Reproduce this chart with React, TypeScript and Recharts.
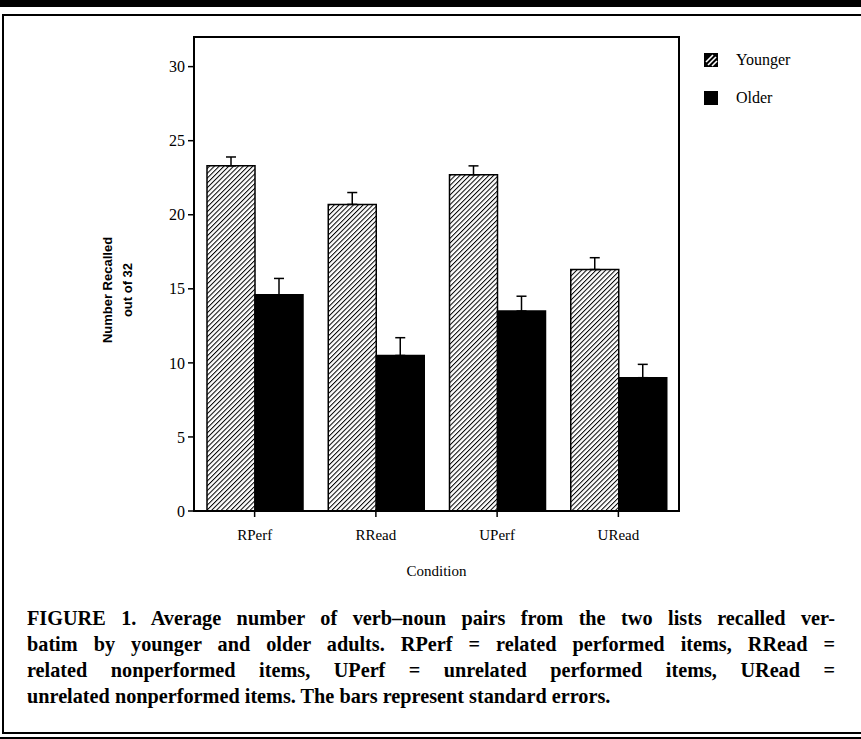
import React from 'react'
import { BarChart, Bar, XAxis, YAxis, ErrorBar, ReferenceArea } from 'recharts'

const conditions = ['RPerf', 'RRead', 'UPerf', 'URead']
const younger = [23.3, 20.7, 22.7, 16.3]
const older = [14.6, 10.5, 13.5, 9.0]
const youngerSE = [0.6, 0.8, 0.6, 0.8]
const olderSE = [1.1, 1.2, 1.0, 0.9]
const yTicks = [0, 5, 10, 15, 20, 25, 30]

const captionLines = [
  'FIGURE 1. Average number of verb\u2013noun pairs from the two lists recalled ver-',
  'batim by younger and older adults. RPerf = related performed items, RRead =',
  'related nonperformed items, UPerf = unrelated performed items, URead =',
  'unrelated nonperformed items. The bars represent standard errors.',
]

// bars only show the upper whisker (the "T")
const data = conditions.map((c, i) => ({
  cond: c,
  younger: younger[i],
  older: older[i],
  youngerErr: [0, youngerSE[i]],
  olderErr: [0, olderSE[i]],
}))

const serif = "'Liberation Serif', 'Times New Roman', serif"
const narrow = "'Liberation Sans Narrow', 'Liberation Sans', Arial, sans-serif"

const YLabel = () => (
  <g fontFamily={narrow} fontWeight="bold" fontSize={13} fill="#000">
    <text x={107} y={290} transform="rotate(-90 107 290)" textAnchor="middle" dominantBaseline="central">
      Number Recalled
    </text>
    <text x={127} y={290} transform="rotate(-90 127 290)" textAnchor="middle" dominantBaseline="central">
      out of 32
    </text>
  </g>
)

function LegendIcon({ hatched }: { hatched: boolean }) {
  return (
    <svg width={14} height={14} style={{ display: 'block' }}>
      <rect x={0} y={0} width={14} height={14} fill="#000" />
      {hatched && (
        <g stroke="#fff" strokeWidth={1.6}>
          <line x1={2} y1={9} x2={9} y2={2} />
          <line x1={4} y1={12} x2={12} y2={4} />
          <line x1={8} y1={13} x2={13} y2={8} />
        </g>
      )}
    </svg>
  )
}

export default function App() {
  const capScale = 0.92
  return (
    <div
      style={{
        position: 'absolute',
        left: 0,
        top: 0,
        width: 861,
        height: 739,
        background: '#fff',
        overflow: 'hidden',
      }}
    >
      {/* page frame */}
      <div style={{ position: 'absolute', left: 0, top: 0, width: 861, height: 7, background: '#000' }} />
      <div style={{ position: 'absolute', left: 2, top: 14, width: 859, height: 2, background: '#000' }} />
      <div style={{ position: 'absolute', left: 2, top: 14, width: 2, height: 720, background: '#000' }} />
      <div style={{ position: 'absolute', left: 2, top: 732, width: 859, height: 2, background: '#000' }} />
      <div style={{ position: 'absolute', left: 0, top: 737, width: 861, height: 2, background: '#000' }} />

      <div style={{ position: 'absolute', left: 0, top: 0 }}>
        <BarChart
          width={861}
          height={600}
          data={data}
          margin={{ top: 37, right: 182, bottom: 0, left: 0 }}
          barCategoryGap={13}
          barGap={0}
        >
          <defs>
            <pattern id="hatch" patternUnits="userSpaceOnUse" width={3.4} height={3.4} patternTransform="rotate(45)">
              <rect width={3.4} height={3.4} fill="#fff" />
              <line x1={0.5} y1={0} x2={0.5} y2={3.4} stroke="#000" strokeWidth={1} />
            </pattern>
          </defs>
          <XAxis
            dataKey="cond"
            height={89}
            axisLine={{ stroke: '#000', strokeWidth: 2 }}
            tickLine={{ stroke: '#000', strokeWidth: 1.5 }}
            tickSize={6}
            tickMargin={12}
            tick={{ fill: '#000', fontSize: 15, fontFamily: serif }}
            label={{ value: 'Condition', position: 'insideBottom', offset: 24, fill: '#000', fontSize: 15, fontFamily: serif }}
          />
          <YAxis
            width={194}
            domain={[0, 32]}
            ticks={yTicks}
            interval={0}
            allowDataOverflow
            axisLine={{ stroke: '#000', strokeWidth: 2 }}
            tickLine={{ stroke: '#000', strokeWidth: 1.5 }}
            tickSize={6}
            tickMargin={3}
            tick={{ fill: '#000', fontSize: 16, fontFamily: serif }}
            label={<YLabel />}
          />
          {/* plot frame (top and right edges) */}
          <ReferenceArea y1={0} y2={32} fill="none" stroke="#000" strokeWidth={2} ifOverflow="visible" />
          <Bar dataKey="younger" fill="url(#hatch)" stroke="#000" strokeWidth={1.5} isAnimationActive={false}>
            <ErrorBar dataKey="youngerErr" width={5} stroke="#000" strokeWidth={1.5} direction="y" />
          </Bar>
          <Bar dataKey="older" fill="#000" stroke="#000" strokeWidth={1.5} isAnimationActive={false}>
            <ErrorBar dataKey="olderErr" width={5} stroke="#000" strokeWidth={1.5} direction="y" />
          </Bar>
        </BarChart>
      </div>

      {/* legend */}
      <div style={{ position: 'absolute', left: 704, top: 50, fontFamily: serif, fontSize: 16, color: '#000' }}>
        {[
          { name: 'Younger', hatched: true },
          { name: 'Older', hatched: false },
        ].map((it) => (
          <div key={it.name} style={{ display: 'flex', alignItems: 'center', height: 20, marginBottom: 18 }}>
            <LegendIcon hatched={it.hatched} />
            <span style={{ marginLeft: 18 }}>{it.name}</span>
          </div>
        ))}
      </div>

      {/* caption */}
      <div
        style={{
          position: 'absolute',
          left: 27,
          top: 605,
          width: 808 / capScale,
          transform: `scaleX(${capScale})`,
          transformOrigin: 'left top',
          fontFamily: serif,
          fontWeight: 'bold',
          fontSize: 22,
          lineHeight: '26px',
          color: '#000',
        }}
      >
        {captionLines.map((l, i) => (
          <div
            key={i}
            style={{
              whiteSpace: 'nowrap',
              textAlign: i < captionLines.length - 1 ? 'justify' : 'left',
              textAlignLast: i < captionLines.length - 1 ? 'justify' : 'left',
            }}
          >
            {l}
          </div>
        ))}
      </div>
    </div>
  )
}
